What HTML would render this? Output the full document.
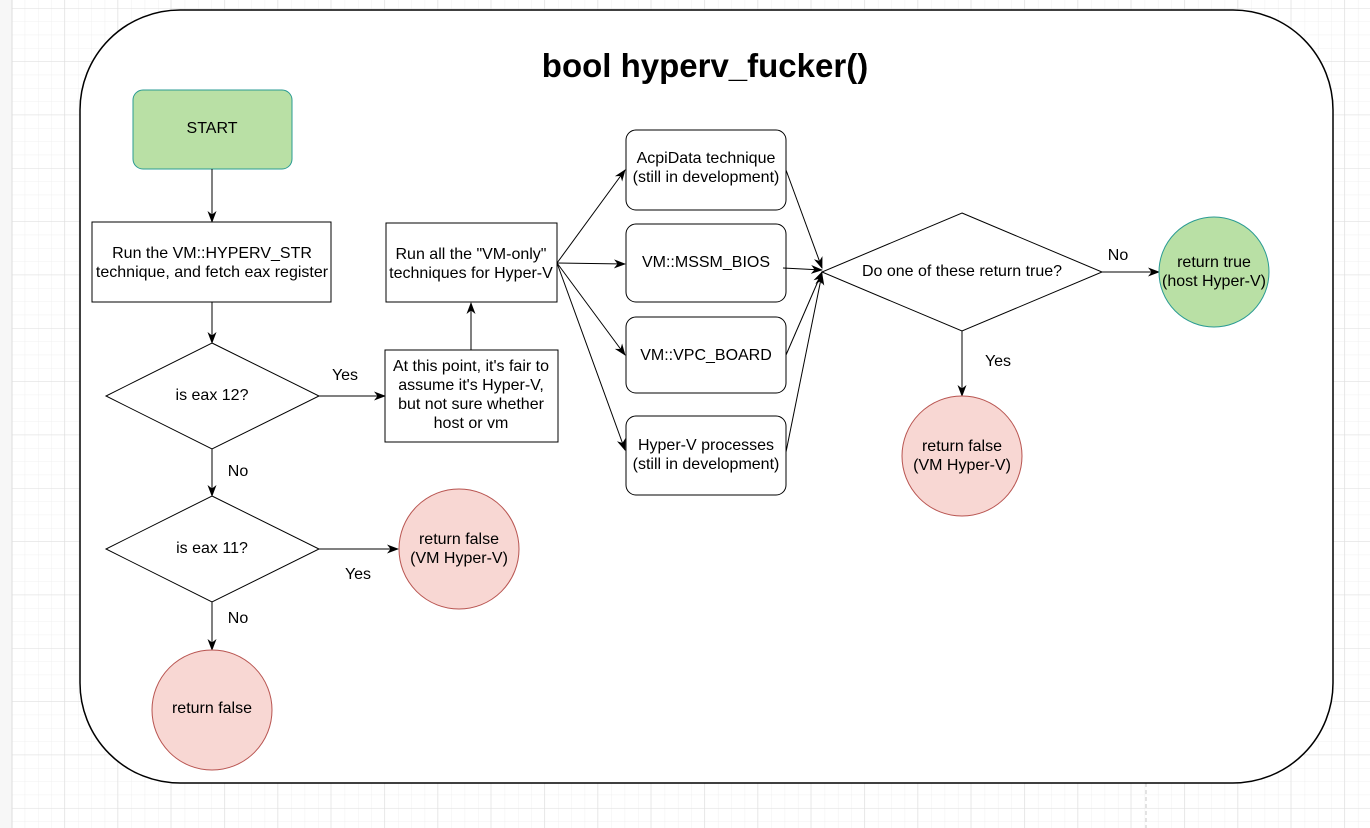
<!DOCTYPE html>
<html><head><meta charset="utf-8"><style>
html,body{margin:0;padding:0;background:#fff;}
svg{display:block;font-family:"Liberation Sans",sans-serif;}
</style></head><body>
<svg width="1370" height="828" viewBox="0 0 1370 828" xmlns="http://www.w3.org/2000/svg">
<defs>
<pattern id="minor" x="11.33" y="8" width="13.333" height="13.333" patternUnits="userSpaceOnUse">
<path d="M0 0H13.333M0 0V13.333" stroke="#f0f0f0" stroke-width="1" fill="none"/>
</pattern>
<pattern id="major" x="10.67" y="8" width="53.333" height="53.333" patternUnits="userSpaceOnUse">
<path d="M0 0H53.333M0 0V53.333" stroke="#dedede" stroke-width="1" fill="none"/>
</pattern>
<marker id="a" markerWidth="12" markerHeight="12" refX="11" refY="6" orient="auto" markerUnits="userSpaceOnUse">
<path d="M0 1.5 L12 6 L0 10.5 L3.5 6 Z" fill="#000"/>
</marker>
</defs>
<rect width="1370" height="828" fill="#fff"/>
<rect x="12" y="0" width="1358" height="828" fill="url(#minor)"/>
<rect x="12" y="0" width="1358" height="828" fill="url(#major)"/>
<rect x="0" y="0" width="12" height="828" fill="#f7f7f7"/>
<line x1="12" y1="0" x2="12" y2="828" stroke="#dcdcdc"/>
<line x1="1146" y1="783" x2="1146" y2="828" stroke="#c8c8c8" stroke-dasharray="4 3"/>
<rect x="80" y="10" width="1253" height="773" rx="100" ry="100" fill="#fff" stroke="#000" stroke-width="1.5"/>
<text x="705" y="77" font-size="33" font-weight="bold" text-anchor="middle">bool hyperv_fucker()</text>

<g font-size="16" text-anchor="middle" fill="#000">
<rect x="133" y="90" width="159" height="79" rx="10" fill="#b9e0a5" stroke="#2a9b93"/>
<text x="212" y="133">START</text>
<line x1="212" y1="169" x2="212" y2="222" stroke="#000" marker-end="url(#a)"/>
<rect x="92" y="222" width="239" height="80" fill="#fff" stroke="#000"/>
<text x="212" y="258">Run the VM::HYPERV_STR</text>
<text x="212" y="277">technique, and fetch eax register</text>
<line x1="212" y1="302" x2="212" y2="343" stroke="#000" marker-end="url(#a)"/>
<polygon points="212,343 319,396 212,449 106,396" fill="#fff" stroke="#000"/>
<text x="212" y="400">is eax 12?</text>
<line x1="319" y1="396" x2="385" y2="396" stroke="#000" marker-end="url(#a)"/>
<text x="345" y="380">Yes</text>
<rect x="385" y="350" width="173" height="92" fill="#fff" stroke="#000"/>
<text x="471" y="371">At this point, it's fair to</text>
<text x="471" y="390">assume it's Hyper-V,</text>
<text x="471" y="409">but not sure whether</text>
<text x="471" y="428">host or vm</text>
<line x1="471" y1="350" x2="471" y2="303" stroke="#000" marker-end="url(#a)"/>
<rect x="386" y="223" width="171" height="79" fill="#fff" stroke="#000"/>
<text x="471" y="259">Run all the "VM-only"</text>
<text x="471" y="278">techniques for Hyper-V</text>
<line x1="557" y1="263" x2="625" y2="170" stroke="#000" marker-end="url(#a)"/>
<line x1="557" y1="263" x2="625" y2="264" stroke="#000" marker-end="url(#a)"/>
<line x1="557" y1="263" x2="625" y2="355" stroke="#000" marker-end="url(#a)"/>
<line x1="557" y1="263" x2="625" y2="450" stroke="#000" marker-end="url(#a)"/>
<rect x="626" y="130" width="160" height="80" rx="10" fill="#fff" stroke="#000"/>
<text x="706" y="163">AcpiData technique</text>
<text x="706" y="182">(still in development)</text>
<rect x="626" y="224" width="160" height="78" rx="10" fill="#fff" stroke="#000"/>
<text x="706" y="267">VM::MSSM_BIOS</text>
<rect x="626" y="317" width="160" height="76" rx="10" fill="#fff" stroke="#000"/>
<text x="706" y="360">VM::VPC_BOARD</text>
<rect x="626" y="416" width="160" height="79" rx="10" fill="#fff" stroke="#000"/>
<text x="706" y="450">Hyper-V processes</text>
<text x="706" y="469">(still in development)</text>
<line x1="786" y1="170" x2="822" y2="268" stroke="#000" marker-end="url(#a)"/>
<line x1="783" y1="268" x2="822" y2="270" stroke="#000" marker-end="url(#a)"/>
<line x1="786" y1="355" x2="822" y2="272" stroke="#000" marker-end="url(#a)"/>
<line x1="786" y1="452" x2="822" y2="274" stroke="#000" marker-end="url(#a)"/>
<polygon points="962,213 1102,272 962,331 822,272" fill="#fff" stroke="#000"/>
<text x="962" y="276">Do one of these return true?</text>
<line x1="1102" y1="272" x2="1159" y2="272" stroke="#000" marker-end="url(#a)"/>
<text x="1118" y="260">No</text>
<circle cx="1214" cy="272" r="55" fill="#b9e0a5" stroke="#2a9b93"/>
<text x="1214" y="267">return true</text>
<text x="1214" y="286">(host Hyper-V)</text>
<line x1="962" y1="331" x2="962" y2="396" stroke="#000" marker-end="url(#a)"/>
<text x="998" y="366">Yes</text>
<circle cx="962" cy="456" r="60" fill="#f8d7d3" stroke="#b85450"/>
<text x="962" y="451">return false</text>
<text x="962" y="470">(VM Hyper-V)</text>
<line x1="212" y1="449" x2="212" y2="496" stroke="#000" marker-end="url(#a)"/>
<text x="238" y="476">No</text>
<polygon points="212,496 319,549 212,602 106,549" fill="#fff" stroke="#000"/>
<text x="212" y="553">is eax 11?</text>
<line x1="319" y1="549" x2="398" y2="549" stroke="#000" marker-end="url(#a)"/>
<text x="358" y="579">Yes</text>
<circle cx="459" cy="549" r="60" fill="#f8d7d3" stroke="#b85450"/>
<text x="459" y="544">return false</text>
<text x="459" y="563">(VM Hyper-V)</text>
<line x1="212" y1="602" x2="212" y2="650" stroke="#000" marker-end="url(#a)"/>
<text x="238" y="623">No</text>
<circle cx="212" cy="710" r="60" fill="#f8d7d3" stroke="#b85450"/>
<text x="212" y="713">return false</text>
</g>
</svg>
</body></html>
